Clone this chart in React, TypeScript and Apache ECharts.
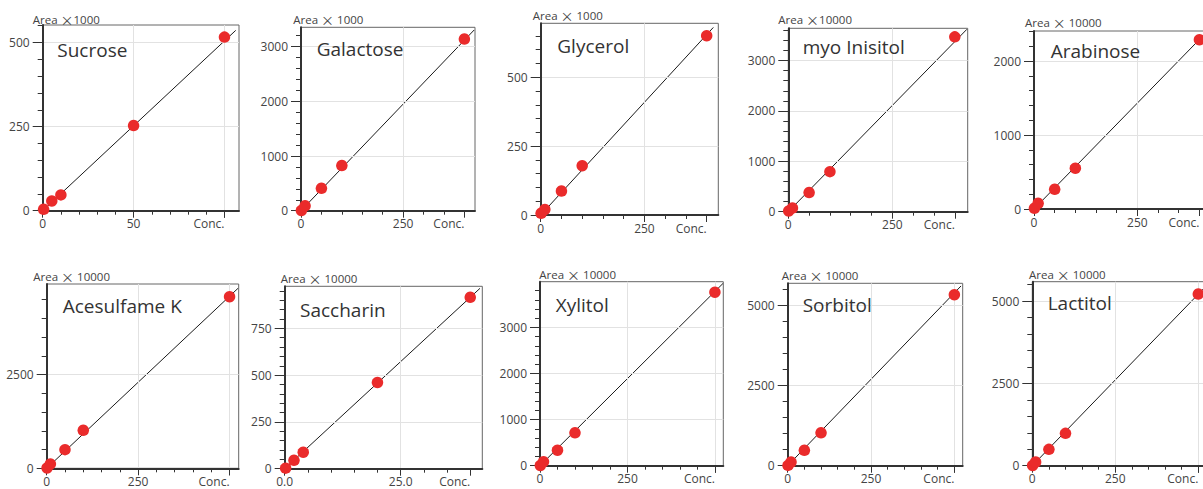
import React, { useEffect, useRef } from 'react';
import * as echarts from 'echarts';

// ---------- data ----------
const compoundNames = ['Sucrose', 'Galactose', 'Glycerol', 'myo Inisitol', 'Arabinose', 'Acesulfame K', 'Saccharin', 'Xylitol', 'Sorbitol', 'Lactitol'];
const areaPrefix = 'Area';
const areaTimesSpacing = ['', ' ', ' ', '', ' ', ' ', ' ', ' ', ' ', ' '];
const areaScaleFactors = ['1000', '1000', '1000', '10000', '10000', '10000', '10000', '10000', '10000', '10000'];

const sucroseConc = [0.5, 5, 10, 50, 100];
const sucroseArea = [4, 29, 47, 253, 516];
const galactoseConc = [1, 10, 50, 100, 400];
const galactoseArea = [5, 90, 410, 825, 3140];
const glycerolConc = [1, 10, 50, 100, 400];
const glycerolArea = [6, 20, 87, 179, 651];
const myoInositolConc = [1, 10, 50, 100, 400];
const myoInositolArea = [15, 73, 380, 795, 3470];
const arabinoseConc = [1, 10, 50, 100, 400];
const arabinoseArea = [10, 77, 267, 552, 2290];
const acesulfameConc = [1, 10, 50, 100, 500];
const acesulfameArea = [9, 116, 498, 1014, 4580];
const saccharinConc = [0.2, 2, 4, 20, 40];
const saccharinArea = [3, 45, 88, 461, 916];
const xylitolConc = [1, 10, 50, 100, 500];
const xylitolArea = [5, 88, 336, 715, 3766];
const sorbitolConc = [1, 10, 50, 100, 500];
const sorbitolArea = [10, 115, 481, 1025, 5335];
const lactitolConc = [1, 10, 50, 100, 500];
const lactitolArea = [8, 110, 496, 982, 5212];

const concData = [sucroseConc, galactoseConc, glycerolConc, myoInositolConc, arabinoseConc, acesulfameConc, saccharinConc, xylitolConc, sorbitolConc, lactitolConc];
const areaData = [sucroseArea, galactoseArea, glycerolArea, myoInositolArea, arabinoseArea, acesulfameArea, saccharinArea, xylitolArea, sorbitolArea, lactitolArea];

// calibration line end points (start at origin)
const fitLineEndConc = [106.2, 424, 416, 429, 420, 523, 42.1, 523, 520, 525];
const fitLineEndArea = [536, 3305, 681, 3620, 2407, 4804, 964, 3956, 5607, 5470];

// axes
const xAxisMax = [108, 426, 428, 431, 428, 525, 42.6, 524, 525, 525];
const yAxisMax = [552, 3354, 696, 3640, 2407, 4920, 975, 3995, 5690, 5587];
const xAxisStep = [50, 250, 250, 250, 250, 250, 25, 250, 250, 250];
const yAxisStep = [250, 1000, 250, 1000, 1000, 2500, 250, 1000, 2500, 2500];
const concLabelAt = [100, 400, 400, 400, 400, 500, 40, 500, 500, 500];
const xLabelDecimals = [0, 0, 0, 0, 0, 0, 1, 0, 0, 0];

// ---------- layout ----------
const panelBoxes = [
  [42.7, 25, 196.3, 185.7],
  [301, 27.3, 174, 183.4],
  [540.7, 23.3, 177.6, 191.7],
  [788.3, 28.3, 179.4, 183.4],
  [1034, 31, 177, 178],
  [46.7, 284, 192, 184.3],
  [284.7, 286.3, 197.6, 182.4],
  [540, 281.7, 183.3, 184],
  [787.7, 283.3, 175, 182.4],
  [1032.3, 281.7, 174.3, 184],
];
const titlePos = [
  [57.3, 43.3], [316.7, 42.7], [557.3, 40], [802.7, 40.7], [1050.7, 45],
  [62.7, 299.3], [300, 303.3], [555.7, 298.3], [802.7, 298.3], [1047.7, 296.7],
];
const unitPos = [
  [32.7, 24], [293.3, 24.3], [532.7, 20], [778.3, 24.3], [1025, 26.7],
  [33.3, 280.7], [280.7, 282.7], [539.3, 279], [781.7, 280], [1029, 279],
];

const FONT = '"Open Sans", "Noto Sans", sans-serif';
const CJK_FONT = '"Noto Sans CJK JP", "Open Sans", sans-serif';
const LABEL_COLOR = '#444';
const AXIS_COLOR = '#333';
const GRID_COLOR = '#e2e2e2';
const LABEL_SIZE = 12;

function stepValues(max: number, step: number): number[] {
  const out: number[] = [];
  for (let k = 0; k * step <= max + 1e-9; k++) out.push(+(k * step).toFixed(6));
  return out;
}

function buildOption() {
  const grid: any[] = [];
  const xAxis: any[] = [];
  const yAxis: any[] = [];
  const series: any[] = [];
  const graphic: any[] = [];

  compoundNames.forEach((name, i) => {
    const [l, t, w, h] = panelBoxes[i];
    grid.push({
      left: l, top: t, width: w, height: h, show: true, borderColor: '#666', borderWidth: 1,
      backgroundColor: 'transparent', containLabel: false, outerBoundsMode: 'none',
    });

    const xMajors = stepValues(xAxisMax[i], xAxisStep[i]);
    const xMinors = stepValues(xAxisMax[i], xAxisStep[i] / 5);
    const conc = concLabelAt[i];
    const xLabels = [...xMajors.filter((v) => v < conc - 1e-9), conc];
    const yMajors = stepValues(yAxisMax[i], yAxisStep[i]);
    const yMinors = stepValues(yAxisMax[i], yAxisStep[i] / 5);
    const dec = xLabelDecimals[i];

    const xBase = { type: 'value', gridIndex: i, min: 0, max: xAxisMax[i], position: 'bottom', splitLine: { show: false } };
    const yBase = { type: 'value', gridIndex: i, min: 0, max: yAxisMax[i], position: 'left', splitLine: { show: false } };
    const mainX = xAxis.length;
    xAxis.push({
      ...xBase, interval: xAxisStep[i], z: 3,
      axisLine: { show: true, onZero: false, lineStyle: { color: AXIS_COLOR, width: 2 } },
      axisTick: { show: true, inside: false, length: 7, customValues: xMajors, lineStyle: { color: AXIS_COLOR, width: 1 } },
      axisLabel: {
        show: true, customValues: xLabels, margin: 7, color: LABEL_COLOR, fontFamily: FONT, fontSize: LABEL_SIZE,
        formatter: (v: number) => (Math.abs(v - conc) < 1e-9 ? '{c|Conc.}' : v.toFixed(dec)),
        rich: { c: { padding: [0, 31, 0, 0], color: LABEL_COLOR, fontFamily: FONT, fontSize: LABEL_SIZE } },
      },
      splitLine: { show: true, lineStyle: { color: GRID_COLOR, width: 1 } },
    });
    xAxis.push({
      ...xBase,
      axisLine: { show: false, onZero: false },
      axisTick: { show: true, inside: false, length: 4, customValues: xMinors, lineStyle: { color: AXIS_COLOR, width: 1 } },
      axisLabel: { show: false },
    });
    xAxis.push({
      ...xBase,
      axisLine: { show: false, onZero: false },
      axisTick: { show: true, inside: false, length: 7, customValues: [conc], lineStyle: { color: AXIS_COLOR, width: 1 } },
      axisLabel: { show: false },
    });
    const mainY = yAxis.length;
    yAxis.push({
      ...yBase, interval: yAxisStep[i], z: 3,
      axisLine: { show: true, onZero: false, lineStyle: { color: AXIS_COLOR, width: 2 } },
      axisTick: { show: true, inside: false, length: 10, customValues: yMajors, lineStyle: { color: AXIS_COLOR, width: 1 } },
      axisLabel: { show: true, customValues: yMajors, margin: 13, color: LABEL_COLOR, fontFamily: FONT, fontSize: LABEL_SIZE, formatter: (v: number) => String(v) },
      splitLine: { show: true, lineStyle: { color: GRID_COLOR, width: 1 } },
    });
    yAxis.push({
      ...yBase,
      axisLine: { show: false, onZero: false },
      axisTick: { show: true, inside: false, length: 5, customValues: yMinors, lineStyle: { color: AXIS_COLOR, width: 1 } },
      axisLabel: { show: false },
    });

    series.push({
      type: 'line', xAxisIndex: mainX, yAxisIndex: mainY, z: 2, clip: true,
      data: [[0, 0], [fitLineEndConc[i], fitLineEndArea[i]]],
      showSymbol: false, symbol: 'none', silent: true,
      lineStyle: { color: '#1a1a1a', width: 1 },
    });
    series.push({
      type: 'scatter', xAxisIndex: mainX, yAxisIndex: mainY, z: 3, clip: false,
      data: concData[i].map((c, k) => [c, areaData[i][k]]),
      symbol: 'circle', symbolSize: 11.5,
      itemStyle: { color: '#ea2b2b', opacity: 1 },
    });

    graphic.push({
      type: 'text', x: titlePos[i][0], y: titlePos[i][1] + 6.2, z: 10, silent: true,
      style: { text: name, fill: '#333', fontSize: 19, fontFamily: FONT, align: 'left', verticalAlign: 'middle' },
    });
    graphic.push({
      type: 'text', x: unitPos[i][0], y: unitPos[i][1] - 4.6, z: 10, silent: true,
      style: {
        text: `${areaPrefix} {m|\u00d7}${areaTimesSpacing[i]}${areaScaleFactors[i]}`,
        fill: LABEL_COLOR, fontSize: 11.5, fontFamily: FONT, align: 'left', verticalAlign: 'middle',
        rich: { m: { fontFamily: CJK_FONT, fontSize: 13, fill: LABEL_COLOR } },
      },
    });
  });

  return { animation: false, backgroundColor: '#fff', grid, xAxis, yAxis, series, graphic };
}

export default function App() {
  const ref = useRef<HTMLDivElement>(null);
  useEffect(() => {
    if (!ref.current) return;
    const chart = echarts.init(ref.current, null, { renderer: 'svg' });
    chart.setOption(buildOption() as any);
    return () => chart.dispose();
  }, []);
  return <div ref={ref} style={{ position: 'fixed', left: 0, top: 0, width: 1203, height: 489, background: '#fff' }} />;
}
